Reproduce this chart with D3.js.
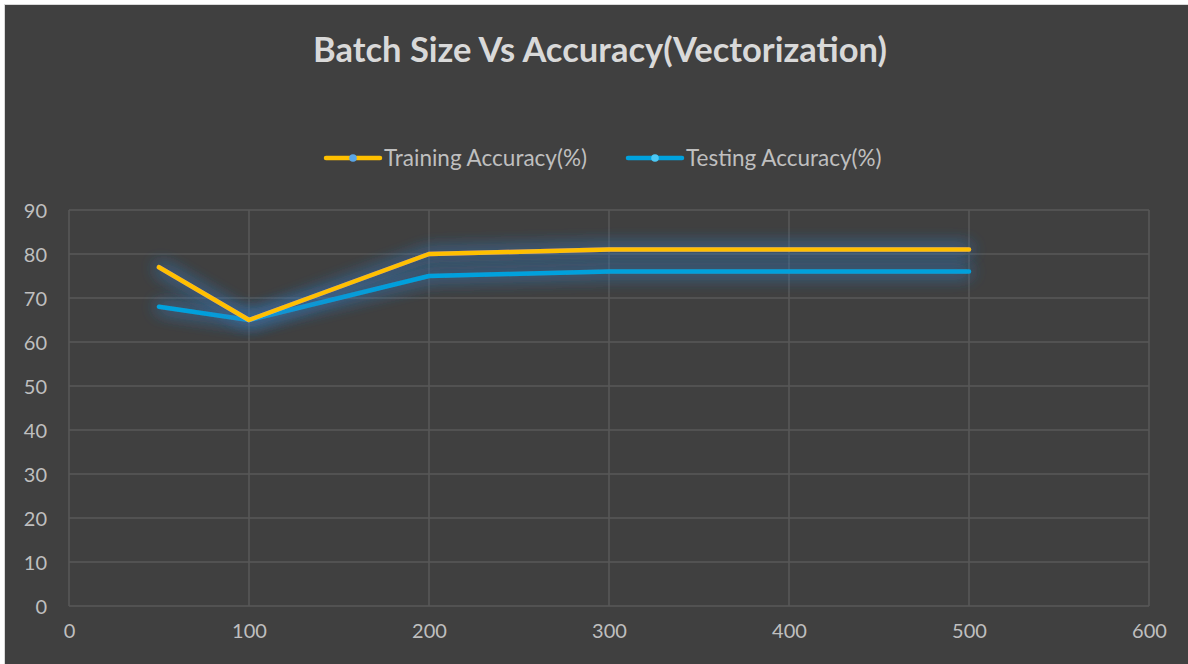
<!DOCTYPE html>
<html><head><meta charset="utf-8">
<script src="https://cdn.jsdelivr.net/npm/d3@7/dist/d3.min.js"></script>
<style>
html,body{margin:0;padding:0;background:#fff;}
svg{display:block;}
</style></head>
<body>
<script>
const batchSizes = [50, 100, 200, 300, 500];
const trainingAcc = [77, 65, 80, 81, 81];
const testingAcc = [68, 65, 75, 76, 76];
const seriesNames = ["Training Accuracy(%)", "Testing Accuracy(%)"];
const xTicks = [0, 100, 200, 300, 400, 500, 600];
const yTicks = [0, 10, 20, 30, 40, 50, 60, 70, 80, 90];

const W = 1188, H = 664;
const svg = d3.select("body").append("svg").attr("width", W).attr("height", H);
const font = "Lato, 'Open Sans', sans-serif";

const defs = svg.append("defs");
const f = defs.append("filter").attr("id","glow").attr("x","-20%").attr("y","-100%").attr("width","140%").attr("height","300%");
f.append("feGaussianBlur").attr("in","SourceAlpha").attr("stdDeviation", 9).attr("result","b");
f.append("feFlood").attr("flood-color","#3c78b8").attr("flood-opacity",1);
f.append("feComposite").attr("in2","b").attr("operator","in").attr("result","g");
const m = f.append("feMerge");
m.append("feMergeNode").attr("in","g");
m.append("feMergeNode").attr("in","g");
m.append("feMergeNode").attr("in","SourceGraphic");

svg.append("rect").attr("x",5).attr("y",5).attr("width",W-5).attr("height",H-5).attr("fill","#404040");
svg.append("rect").attr("x",4.5).attr("y",4.5).attr("width",W).attr("height",H).attr("fill","none").attr("stroke","#d9d9d9").attr("stroke-width",1);

const x = d3.scaleLinear().domain([0, 600]).range([69, 1149]);
const y = d3.scaleLinear().domain([0, 90]).range([606, 210]);

svg.append("text").attr("x", 600).attr("y", 62).attr("text-anchor","middle")
  .attr("font-family", font).attr("font-weight","bold").attr("font-size", 34.5)
  .attr("fill","#d9d9d9").text("Batch Size Vs Accuracy(Vectorization)");

// grid
const g = svg.append("g");
g.selectAll(".hy").data(yTicks).join("line")
  .attr("x1", x(0)).attr("x2", x(600)).attr("y1", d=>y(d)).attr("y2", d=>y(d))
  .attr("stroke","#595959").attr("stroke-width",1.5);
g.selectAll(".vx").data(xTicks).join("line")
  .attr("y1", y(0)).attr("y2", y(90)).attr("x1", d=>x(d)).attr("x2", d=>x(d))
  .attr("stroke","#595959").attr("stroke-width",1.5);

const yAxis = svg.append("g").attr("transform",`translate(${x(0)-22},0)`)
  .call(d3.axisLeft(y).tickValues(yTicks).tickSize(0).tickPadding(0));
const xAxis = svg.append("g").attr("transform",`translate(0,${y(0)+18})`)
  .call(d3.axisBottom(x).tickValues(xTicks).tickSize(0).tickPadding(0));
[yAxis, xAxis].forEach(a => {
  a.select(".domain").remove();
  a.selectAll("text").attr("font-family", font).attr("font-size", 20).attr("fill","#bfbfbf");
});
yAxis.selectAll("text").attr("dy","0.35em");
xAxis.selectAll("text").attr("dy","0.72em");

const colors = ["#ffc000", "#00a2de"];
const data = [trainingAcc, testingAcc];
const line = d3.line().x((d,i)=>x(batchSizes[i])).y(d=>y(d));
const order = [1, 0];
order.forEach(k => {
  svg.append("path").datum(data[k]).attr("d", line).attr("fill","none")
    .attr("stroke", colors[k]).attr("stroke-width", 4.5)
    .attr("stroke-linecap","round").attr("stroke-linejoin","round")
    .attr("filter","url(#glow)");
});

// legend
const legX = [326, 628];
seriesNames.forEach((n,k) => {
  const lg = svg.append("g");
  lg.append("line").attr("x1", legX[k]).attr("x2", legX[k]+54).attr("y1",158).attr("y2",158)
    .attr("stroke", colors[k]).attr("stroke-width",4.5).attr("stroke-linecap","round");
  lg.append("circle").attr("cx", legX[k]+27).attr("cy",158).attr("r",3.8).attr("fill", k===0 ? "#5aa5e6" : "#4cc8f5");
  lg.append("text").attr("x", legX[k]+58).attr("y",158).attr("dy","0.35em")
    .attr("font-family", font).attr("font-size", 22.5).attr("fill","#bfbfbf").text(n);
});
</script>
</body></html>
